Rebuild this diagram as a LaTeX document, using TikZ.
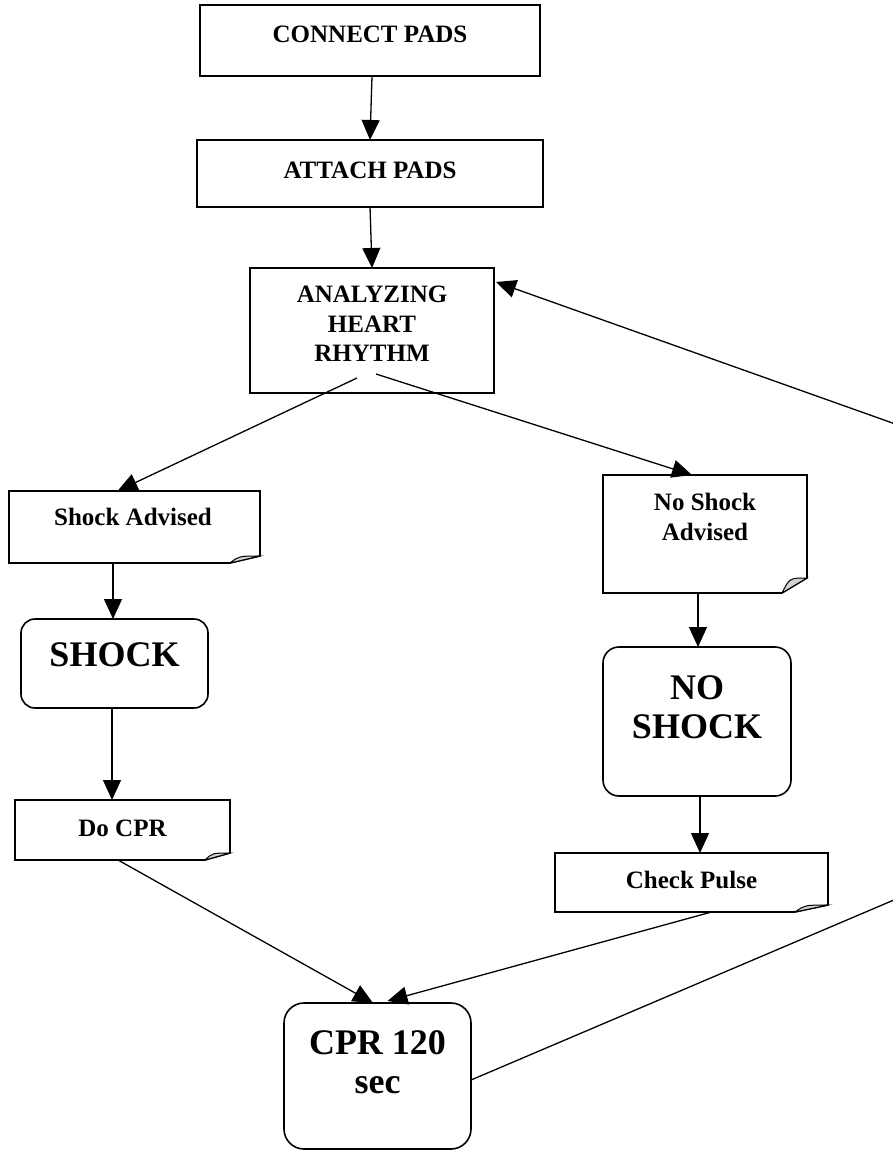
\documentclass[tikz,border=0pt]{standalone}
\usepackage{fontspec}
\setmainfont{Liberation Serif}
\usetikzlibrary{
    calc,
    arrows.meta
}

\tikzset{
    sqbox/.style={draw, line width=1.6pt, inner sep=0pt, outer sep=0pt},
    rndbox/.style={draw, line width=1.6pt, rounded corners=14pt, inner sep=0pt, outer sep=0pt},
    notebox/.style={inner sep=0pt, outer sep=0pt},
    lbl/.style={font=\bfseries\fontsize{25}{29.5}\selectfont, align=center, inner sep=0pt},
    biglbl/.style={font=\bfseries\fontsize{36}{39}\selectfont, align=center, inner sep=0pt},
    arr/.style={line width=1.3pt, -{Triangle[length=20pt,width=18pt]}}
}

% outline of a note box with a curled lower right corner
\newcommand{\noteoutline}[3]{%
    \draw[line width=1.6pt] (#1.north west) -- (#1.north east)
        -- ($(#1.south east)+(0,-#3)$) -- ($(#1.south east)+(-#2,0)$)
        -- (#1.south west) -- cycle;
    \filldraw[line width=1pt, fill=gray!35] ($(#1.south east)+(-#2,0)$)
        .. controls ($(#1.south east)+(-0.7*#2,-#3)$) .. ($(#1.south east)+(0,-#3)$) -- cycle;
}

\begin{document}
\begin{tikzpicture}[x=1pt, y=-1pt]

\useasboundingbox (0,0) rectangle (893,1151);

\node[sqbox, minimum width=340pt, minimum height=71pt] (cp) at (370,40.5) {};
\node[sqbox, minimum width=346pt, minimum height=67pt] (ap) at (370,173.5) {};
\node[sqbox, minimum width=244pt, minimum height=125pt] (ahr) at (372,330.5) {};

\node[notebox, minimum width=251pt, minimum height=72pt] (sa) at (134.5,527) {};
\node[notebox, minimum width=204pt, minimum height=118pt] (nsa) at (705,534) {};
\node[notebox, minimum width=215pt, minimum height=60pt] (dc) at (122.5,830) {};
\node[notebox, minimum width=273pt, minimum height=59pt] (cpu) at (691.5,882.5) {};

\noteoutline{sa}{30}{7}
\noteoutline{nsa}{25}{15}
\noteoutline{dc}{25}{7}
\noteoutline{cpu}{33}{7}

\node[rndbox, minimum width=187pt, minimum height=89pt] (sk) at (114.5,663.5) {};
\node[rndbox, minimum width=188pt, minimum height=149pt, rounded corners=16pt] (nsk) at (697,721.5) {};
\node[rndbox, minimum width=187pt, minimum height=146pt, rounded corners=20pt] (cpr) at (377.5,1076) {};

% texts
\node[lbl] (cp-t) at (370,34) {CONNECT PADS};
\node[lbl] (ap-t) at (370,170) {ATTACH PADS};
\node[lbl] (ahr-t) at (372,324) {ANALYZING\\HEART\\RHYTHM};
\node[lbl] (sa-t) at (133,517) {Shock Advised};
\node[lbl] (nsa-t) at (705,517) {No Shock\\Advised};
\node[lbl] (dc-t) at (122.5,828) {Do CPR};
\node[lbl] (cpu-t) at (691.5,880) {Check Pulse};
\node[biglbl] (sk-t) at (114.5,655) {SHOCK};
\node[biglbl] (nsk-t) at (697,707.5) {NO\\SHOCK};
\node[biglbl] (cpr-t) at (377.5,1062) {CPR 120\\sec};

% connectors
\draw[arr] ($(cp.south)+(2,0)$) -- (ap.north);
\draw[arr] (ap.south) -- (ahr.north);
\draw[arr] ($(ahr.south)+(-15,-15)$) -- ($(sa.north)+(-17,0)$);
\draw[arr] ($(ahr.south)+(4,-19)$) -- ($(nsa.north)+(-13,0)$);
\draw[arr] ($(sa.south)+(-21.5,0)$) -- ($(sk.north)+(-1.5,0)$);
\draw[arr] ($(sk.south)+(-2.5,0)$) -- ($(dc.north)+(-10.5,0)$);
\draw[arr] ($(nsa.south)+(-7,0)$) -- ($(nsk.north)+(1,0)$);
\draw[arr] ($(nsk.south)+(3,0)$) -- ($(cpu.north)+(8.5,0)$);
\draw[arr] ($(dc.south)+(-4.5,0)$) -- ($(cpr.north)+(-4.5,0)$);
\draw[arr] ($(cpu.south)+(20,0)$) -- ($(cpr.north)+(10,-2)$);

\coordinate (rc1) at (915,891);
\coordinate (rc2) at (915,431);
\draw[arr] ($(cpr.east)+(0,4)$) -- (rc1) -- (rc2) -- ($(ahr.east)+(2,-48.5)$);

\end{tikzpicture}
\end{document}
